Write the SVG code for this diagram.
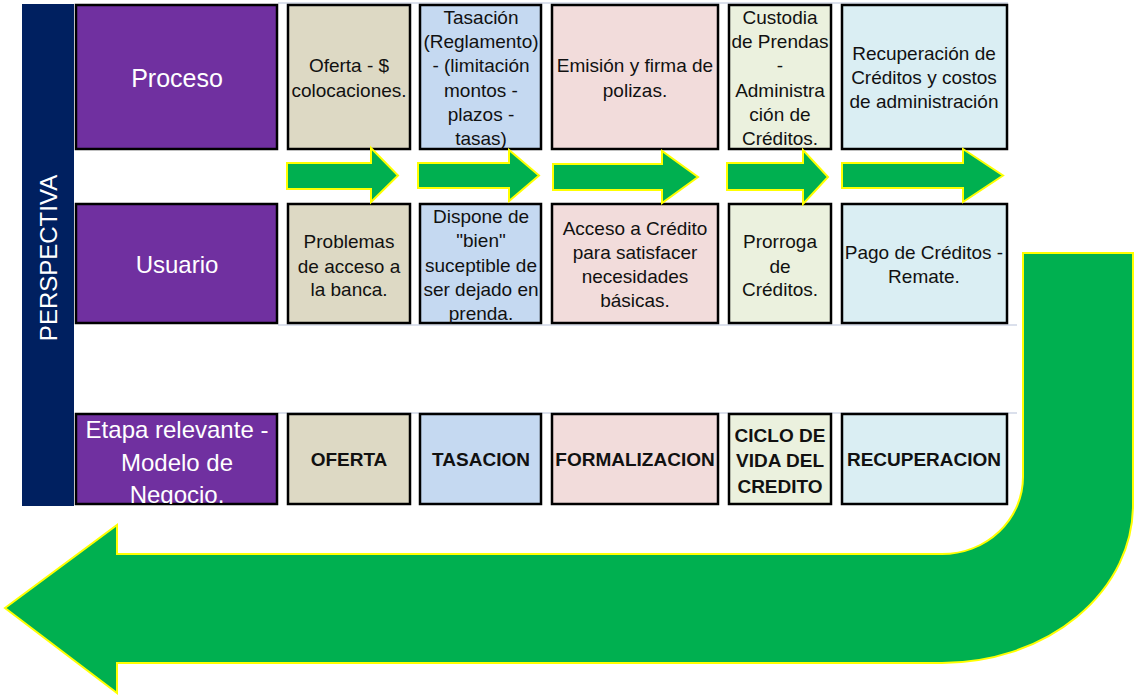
<svg xmlns="http://www.w3.org/2000/svg" width="1136" height="695" viewBox="0 0 1136 695">
<style>
.box{stroke:#000;stroke-width:2.5}
.pur{fill:#7030A0}
.c1{fill:#DDD9C4}.c2{fill:#C5D9F1}.c3{fill:#F2DCDB}.c4{fill:#EBF1DE}.c5{fill:#DAEEF3}
.t{font-family:"Liberation Sans",Arial,sans-serif;font-size:19px;fill:#111;text-anchor:middle}
.w{font-family:"Liberation Sans",Arial,sans-serif;font-size:24px;fill:#fff;text-anchor:middle}
.b{font-family:"Liberation Sans",Arial,sans-serif;font-size:19px;font-weight:bold;fill:#111;text-anchor:middle}
.arr{fill:#00B050;stroke:#FFFF00;stroke-width:2;stroke-linejoin:miter}
.grid{stroke:#cfd6e6;stroke-width:1.5}
</style>
<defs>
<clipPath id="clipEtapa"><rect x="76" y="414" width="201" height="90"/></clipPath>
</defs>
<rect width="1136" height="695" fill="#fff"/>
<g id="gridlines">
<line class="grid" x1="278" y1="3" x2="1008" y2="3"/>
<line class="grid" x1="278" y1="325" x2="1017" y2="325"/>
<line class="grid" x1="278" y1="413" x2="1017" y2="413"/>
</g>
<g id="perspectiva">
<rect x="22" y="4" width="52" height="502" fill="#002060"/>
<text class="w" transform="translate(57,258) rotate(-90)">PERSPECTIVA</text>
</g>
<g id="proceso">
<rect class="box pur" x="76" y="5" width="201" height="144"/>
<text class="w" x="177" y="87" style="font-size:25px">Proceso</text>
</g>
<g id="usuario">
<rect class="box pur" x="76" y="204" width="201" height="119"/>
<text class="w" x="177" y="273">Usuario</text>
</g>
<g id="etapa">
<rect class="box pur" x="76" y="414" width="201" height="90"/>
<g clip-path="url(#clipEtapa)">
<text class="w" x="177" y="438">Etapa relevante -</text>
<text class="w" x="177" y="471">Modelo de</text>
<text class="w" x="177" y="503">Negocio.</text>
</g>
</g>
<g id="p1">
<rect class="box c1" x="288" y="5" width="122" height="144"/>
<text class="t" x="349" y="72">Oferta - $</text>
<text class="t" x="349" y="97">colocaciones.</text>
</g>
<g id="p2">
<rect class="box c2" x="420" y="5" width="121" height="144"/>
<text class="t" x="481" y="24">Tasación</text>
<text class="t" x="481" y="48">(Reglamento)</text>
<text class="t" x="481" y="72">- (limitación</text>
<text class="t" x="481" y="97">montos -</text>
<text class="t" x="481" y="121">plazos -</text>
<text class="t" x="481" y="145">tasas)</text>
</g>
<g id="p3">
<rect class="box c3" x="552" y="5" width="166" height="144"/>
<text class="t" x="635" y="72">Emisión y firma de</text>
<text class="t" x="635" y="97">polizas.</text>
</g>
<g id="p4">
<rect class="box c4" x="729" y="5" width="102" height="144"/>
<text class="t" x="780" y="24">Custodia</text>
<text class="t" x="780" y="48">de Prendas</text>
<text class="t" x="780" y="72">-</text>
<text class="t" x="780" y="97">Administra</text>
<text class="t" x="780" y="121">ción de</text>
<text class="t" x="780" y="145">Créditos.</text>
</g>
<g id="p5">
<rect class="box c5" x="842" y="5" width="165" height="144"/>
<text class="t" x="924" y="60">Recuperación de</text>
<text class="t" x="924" y="84">Créditos y costos</text>
<text class="t" x="924" y="108">de administración</text>
</g>
<g id="u1">
<rect class="box c1" x="288" y="204" width="122" height="119"/>
<text class="t" x="349" y="248">Problemas</text>
<text class="t" x="349" y="273">de acceso a</text>
<text class="t" x="349" y="296">la banca.</text>
</g>
<g id="u2">
<rect class="box c2" x="420" y="204" width="121" height="119"/>
<text class="t" x="481" y="223">Dispone de</text>
<text class="t" x="481" y="247">"bien"</text>
<text class="t" x="481" y="272">suceptible de</text>
<text class="t" x="481" y="296">ser dejado en</text>
<text class="t" x="481" y="320">prenda.</text>
</g>
<g id="u3">
<rect class="box c3" x="552" y="204" width="166" height="119"/>
<text class="t" x="635" y="235">Acceso a Crédito</text>
<text class="t" x="635" y="259">para satisfacer</text>
<text class="t" x="635" y="283">necesidades</text>
<text class="t" x="635" y="307">básicas.</text>
</g>
<g id="u4">
<rect class="box c4" x="729" y="204" width="102" height="119"/>
<text class="t" x="780" y="248">Prorroga</text>
<text class="t" x="780" y="273">de</text>
<text class="t" x="780" y="296">Créditos.</text>
</g>
<g id="u5">
<rect class="box c5" x="842" y="204" width="165" height="119"/>
<text class="t" x="924" y="259">Pago de Créditos -</text>
<text class="t" x="924" y="283">Remate.</text>
</g>
<g id="e1">
<rect class="box c1" x="288" y="414" width="122" height="90"/>
<text class="b" x="349" y="466">OFERTA</text>
</g>
<g id="e2">
<rect class="box c2" x="420" y="414" width="121" height="90"/>
<text class="b" x="481" y="466">TASACION</text>
</g>
<g id="e3">
<rect class="box c3" x="552" y="414" width="166" height="90"/>
<text class="b" x="635" y="466">FORMALIZACION</text>
</g>
<g id="e4">
<rect class="box c4" x="729" y="414" width="102" height="90"/>
<text class="b" x="780" y="442">CICLO DE</text>
<text class="b" x="780" y="467">VIDA DEL</text>
<text class="b" x="780" y="493">CREDITO</text>
</g>
<g id="e5">
<rect class="box c5" x="842" y="414" width="165" height="90"/>
<text class="b" x="924" y="466">RECUPERACION</text>
</g>
<g id="connectors">
<polygon class="arr" points="287,163 371,163 371,148 398,175.5 371,202 371,189 287,189"/>
<polygon class="arr" points="418,163 509,163 509,150 539,175.5 509,201 509,188 418,188"/>
<polygon class="arr" points="553,164 662,164 662,151 698,177 662,203 662,190 553,190"/>
<polygon class="arr" points="727,163 803,163 803,150 828,177 803,204 803,190 727,190"/>
<polygon class="arr" points="842,163 963,163 963,149 1003,175.5 963,202 963,188 842,188"/>
<path class="arr" d="M1133,253 L1133,505 A191,158 0 0 1 942,663 L117,663 L117,693 L5,608 L117,525 L117,554 L942,554 A81,77 0 0 0 1023,477 L1023,253 Z"/>
</g>
</svg>
